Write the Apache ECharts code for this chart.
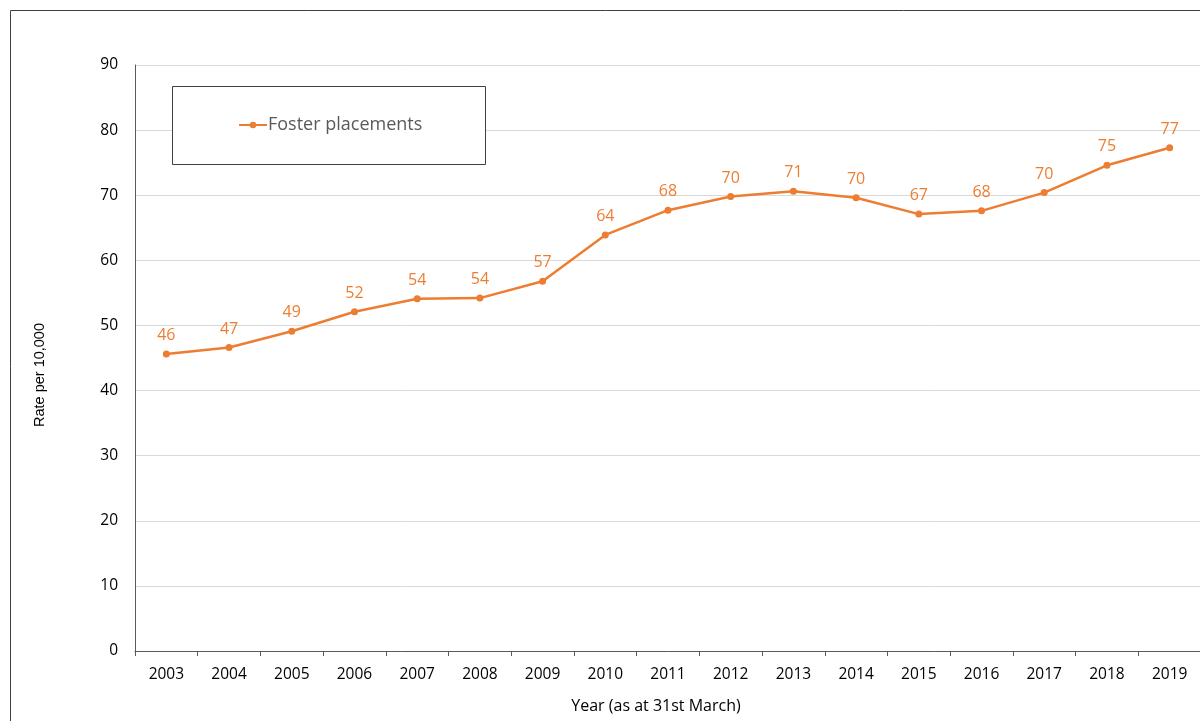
<!DOCTYPE html>
<html>
<head>
<meta charset="utf-8">
<script src="https://cdn.jsdelivr.net/npm/echarts@6/dist/echarts.min.js"></script>
<style>
  html, body { margin: 0; padding: 0; background: #fff; }
  #chart { width: 1200px; height: 721px; }
</style>
</head>
<body>
<div id="chart"></div>
<script>
// Years (as at 31st March)
const years = ['2003','2004','2005','2006','2007','2008','2009','2010','2011','2012','2013','2014','2015','2016','2017','2018','2019'];
// Foster placements, rate per 10,000
const fosterRates = [45.6, 46.6, 49.1, 52.1, 54.1, 54.2, 56.8, 63.9, 67.7, 69.8, 70.6, 69.6, 67.1, 67.6, 70.4, 74.6, 77.3];
const seriesName = 'Foster placements';
const yTicks = { min: 0, max: 90, interval: 10 };

const orange = '#ED7D31';
const font = '"Open Sans", "Noto Sans", sans-serif';

const chart = echarts.init(document.getElementById('chart'), null, { renderer: 'canvas' });
chart.setOption({
  animation: false,
  backgroundColor: '#fff',
  textStyle: { fontFamily: font },
  graphic: [
    // outer chart frame
    { type: 'rect', shape: { x: 10.5, y: 10.5, width: 1250, height: 800 },
      style: { fill: 'none', stroke: '#404040', lineWidth: 1 }, z: -1 },
    // legend frame
    { type: 'rect', shape: { x: 172.5, y: 86.5, width: 313, height: 78 },
      style: { fill: '#fff', stroke: '#404040', lineWidth: 1 }, z: 5 }
  ],
  legend: {
    data: [seriesName],
    left: 238, top: 116,
    padding: 0,
    itemWidth: 28, itemHeight: 8, itemGap: 2,
    z: 10,
    textStyle: { color: '#595959', fontSize: 18, fontFamily: font, padding: [0, 0, 0, -4] }
  },
  grid: { left: 135, top: 65, right: -1, bottom: 70, containLabel: false, outerBoundsMode: 'none' },
  xAxis: {
    type: 'category',
    data: years,
    boundaryGap: true,
    name: 'Year (as at 31st March)',
    nameLocation: 'middle',
    nameGap: 47,
    nameTextStyle: { color: '#000', fontSize: 16, fontFamily: font, padding: [0, 24, 0, 0] },
    axisLine: { lineStyle: { color: '#595959', width: 1 } },
    axisTick: { show: true, alignWithLabel: false, length: 5, lineStyle: { color: '#595959' } },
    axisLabel: { color: '#000', fontSize: 15.5, margin: 16, fontFamily: font },
    splitLine: { show: false }
  },
  yAxis: {
    type: 'value',
    min: yTicks.min, max: yTicks.max, interval: yTicks.interval,
    name: 'Rate per 10,000',
    nameLocation: 'middle',
    nameGap: 88,
    nameRotate: 90,
    nameTextStyle: { color: '#000', fontSize: 14.5, fontFamily: '"Liberation Sans", Arial, sans-serif', padding: [0, 34, 0, 0] },
    axisLine: { show: true, lineStyle: { color: '#595959', width: 1 } },
    axisTick: { show: false },
    axisLabel: { color: '#000', fontSize: 15.5, margin: 17, fontFamily: font },
    splitLine: { lineStyle: { color: '#D9D9D9', width: 1 } }
  },
  series: [{
    name: seriesName,
    type: 'line',
    data: fosterRates,
    symbol: 'circle',
    symbolSize: 7,
    lineStyle: { color: orange, width: 2.5 },
    itemStyle: { color: orange },
    label: {
      show: true,
      position: 'top',
      distance: 7,
      color: orange,
      fontSize: 16,
      fontFamily: font,
      formatter: p => Math.round(p.value)
    }
  }]
});
</script>
</body>
</html>
